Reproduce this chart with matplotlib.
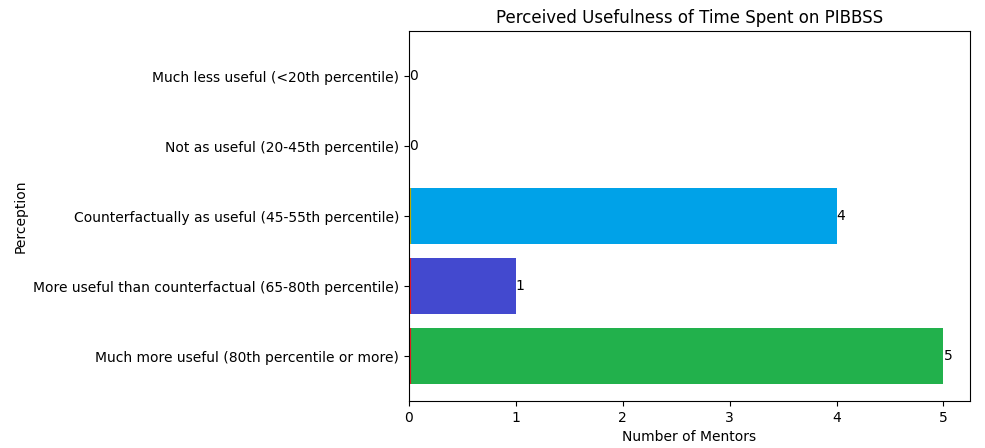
import matplotlib
matplotlib.use("Agg")
import matplotlib.pyplot as plt

categories = [
    "Much more useful (80th percentile or more)",
    "More useful than counterfactual (65-80th percentile)",
    "Counterfactually as useful (45-55th percentile)",
    "Not as useful (20-45th percentile)",
    "Much less useful (<20th percentile)",
]
counts = [5, 1, 4, 0, 0]
bar_colors = ["#22B14C", "#4349CF", "#00A2E8", "#ED1C24", "#FFF200"]
sliver_values = [0, 0, 0, 0, 0]
sliver_colors = ["#ED1C24", "#ED1C24", "#C8B400", "none", "none"]

fig, ax = plt.subplots(figsize=(9.85, 4.48), dpi=100)
fig.subplots_adjust(left=0.415, right=0.985, top=0.930, bottom=0.105)

bars = ax.barh(categories, counts, color=bar_colors)
ax.barh(categories, sliver_values, color="none", edgecolor=sliver_colors,
        linewidth=3.0, zorder=2)
ax.bar_label(bars, labels=[str(c) for c in counts])

ax.set_title("Perceived Usefulness of Time Spent on PIBBSS")
ax.set_xlabel("Number of Mentors")
ax.set_ylabel("Perception")

fig.savefig("out.png", dpi=100)
